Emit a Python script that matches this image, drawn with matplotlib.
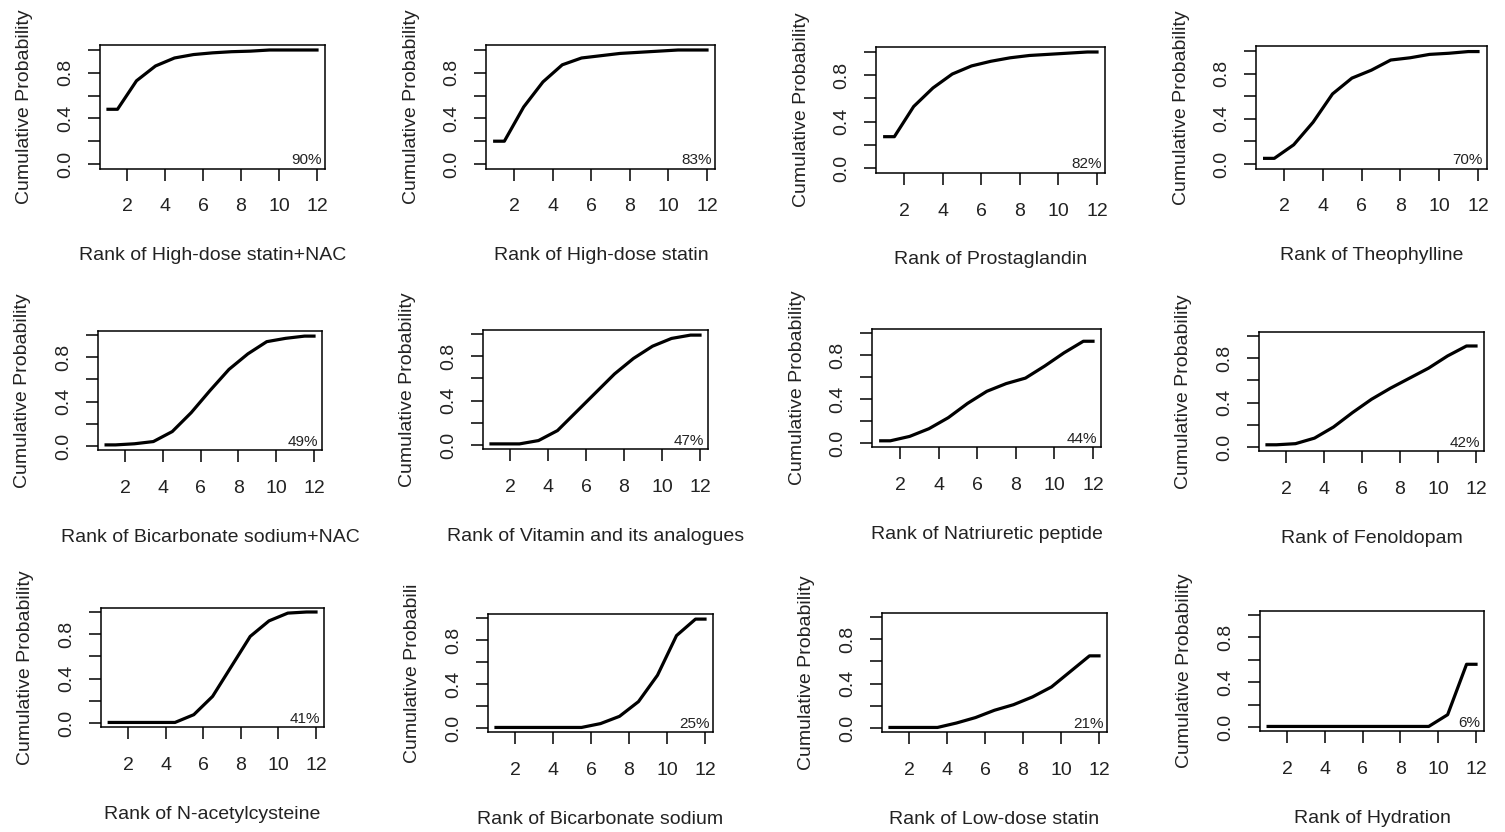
import numpy as np
import matplotlib.pyplot as plt

plt.rcParams['font.family'] = ['Liberation Sans', 'DejaVu Sans']

# ranks where the cumulative probabilities are drawn (first/last value repeated at the ends)
rank_x = [1, 1.5, 2.5, 3.5, 4.5, 5.5, 6.5, 7.5, 8.5, 9.5, 10.5, 11.5, 12]

treatments = ['High-dose statin+NAC', 'High-dose statin', 'Prostaglandin', 'Theophylline',
              'Bicarbonate sodium+NAC', 'Vitamin and its analogues', 'Natriuretic peptide', 'Fenoldopam',
              'N-acetylcysteine', 'Bicarbonate sodium', 'Low-dose statin', 'Hydration']
sucra = ['90%', '83%', '82%', '70%', '49%', '47%', '44%', '42%', '41%', '25%', '21%', '6%']

# cumulative probability of ranks 1..11
hd_statin_nac = [0.48, 0.73, 0.86, 0.93, 0.96, 0.975, 0.985, 0.99, 1.0, 1.0, 1.0]
hd_statin = [0.20, 0.50, 0.72, 0.87, 0.93, 0.95, 0.97, 0.98, 0.99, 1.0, 1.0]
prostaglandin = [0.27, 0.53, 0.69, 0.81, 0.88, 0.92, 0.95, 0.97, 0.98, 0.99, 1.0]
theophylline = [0.05, 0.17, 0.37, 0.62, 0.76, 0.83, 0.92, 0.94, 0.97, 0.98, 0.995]
bicarb_nac = [0.01, 0.02, 0.04, 0.13, 0.30, 0.50, 0.69, 0.83, 0.94, 0.97, 0.99]
vitamin = [0.01, 0.01, 0.04, 0.13, 0.30, 0.47, 0.64, 0.78, 0.89, 0.96, 0.99]
natriuretic = [0.02, 0.06, 0.13, 0.23, 0.36, 0.47, 0.54, 0.59, 0.70, 0.82, 0.925]
fenoldopam = [0.02, 0.03, 0.08, 0.18, 0.31, 0.43, 0.53, 0.62, 0.71, 0.82, 0.91]
nac = [0.005, 0.005, 0.005, 0.005, 0.075, 0.24, 0.51, 0.78, 0.92, 0.99, 1.0]
bicarb = [0.005, 0.005, 0.005, 0.005, 0.005, 0.04, 0.106, 0.24, 0.48, 0.84, 0.99]
ld_statin = [0.005, 0.005, 0.005, 0.045, 0.094, 0.16, 0.21, 0.28, 0.37, 0.51, 0.65]
hydration = [0.005, 0.005, 0.005, 0.005, 0.005, 0.005, 0.005, 0.005, 0.005, 0.11, 0.56]

curves = [hd_statin_nac, hd_statin, prostaglandin, theophylline,
          bicarb_nac, vitamin, natriuretic, fenoldopam,
          nac, bicarb, ld_statin, hydration]

x_ticks = [2, 4, 6, 8, 10, 12]
y_ticks = [0, 0.2, 0.4, 0.6, 0.8, 1.0]
y_ticklabels = ['0.0', '', '0.4', '', '0.8', '']

# pixel position of x=2, x=12, y=0, y=1 for each panel (the figure is a collage)
panel_px = [(127, 317, 164, 50), (514, 707, 164, 50), (904, 1097, 168, 52), (1284, 1478, 164, 51),
            (125, 314, 446, 335), (510, 700, 445, 334), (900, 1093, 443, 333), (1286, 1476, 447, 336),
            (128, 316, 723, 612), (515, 705, 728, 618), (909, 1099, 728, 617), (1287, 1476, 727, 615)]

W, H = 1505, 832
fig = plt.figure(figsize=(W/100, H/100), dpi=100)
fig.patch.set_facecolor('white')

txt = '#222222'
fs = 14

for i in range(12):
    x2, x12, y0, y1 = panel_px[i]
    u = (x12 - x2)/10
    v = (y0 - y1)
    left = x2 - 1.44*u
    right = x12 + 0.44*u
    top = y1 - 0.04*v
    bottom = y0 + 0.04*v
    ax = fig.add_axes([left/W, 1 - bottom/H, (right-left)/W, (bottom-top)/H])

    c = curves[i]
    y = [c[0]] + c + [c[-1]]
    ax.plot(rank_x, y, color='black', linewidth=2.3, solid_joinstyle='round')

    ax.set_xlim(0.56, 12.44)
    ax.set_ylim(-0.04, 1.04)
    ax.set_xticks(x_ticks)
    ax.set_yticks(y_ticks)
    ax.set_yticklabels(y_ticklabels, rotation=90, va='center')
    ax.tick_params(axis='both', direction='out', length=8.5, width=1.1, color='black',
                   labelsize=fs, labelcolor=txt)
    ax.tick_params(axis='x', pad=13)
    ax.tick_params(axis='y', pad=10)
    for s in ax.spines.values():
        s.set_linewidth(1.1)

    ylab = 'Cumulative Probability'
    if i == 9:
        ylab = 'Cumulative Probabili'
    ax.annotate(ylab, xy=(0, 0.5), xycoords='axes fraction', xytext=(-75, 0),
                textcoords='offset pixels', rotation=90, ha='center', va='center',
                fontsize=fs, color=txt)
    ax.annotate('Rank of ' + treatments[i], xy=(0.5, 0), xycoords='axes fraction',
                xytext=(0, -96 + 0.04*v), textcoords='offset pixels', ha='center',
                va='baseline', fontsize=fs, color=txt)
    ax.annotate(sucra[i], xy=(1, 0), xycoords=ax.get_yaxis_transform(), xytext=(-4, 0),
                textcoords='offset pixels', ha='right', va='baseline', fontsize=11, color=txt)

fig.savefig('out.png', dpi=100)
